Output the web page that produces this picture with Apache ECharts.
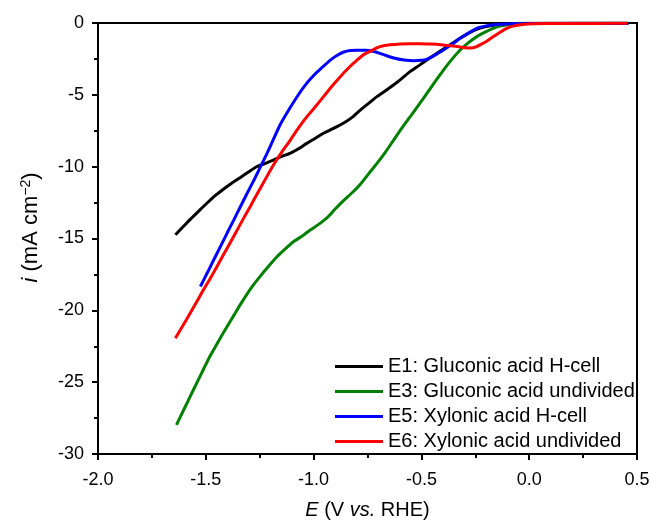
<!DOCTYPE html>
<html>
<head>
<meta charset="utf-8">
<script src="https://cdn.jsdelivr.net/npm/echarts@6/dist/echarts.min.js"></script>
<style>html,body{margin:0;padding:0;background:#fff}#c{width:651px;height:520px}</style>
</head>
<body>
<div id="c"></div>
<script>
// ---- data (E in V vs. RHE, i in mA cm^-2) ----
const seriesNames = ['E1: Gluconic acid H-cell','E3: Gluconic acid undivided','E5: Xylonic acid H-cell','E6: Xylonic acid undivided'];
const seriesColors = ['#000000','#008000','#0000ff','#ff0000'];

const e1X = [-1.641,-1.60,-1.571,-1.53,-1.494,-1.455,-1.417,-1.38,-1.339,-1.30,-1.262,-1.22,-1.185,-1.15,-1.107,-1.07,-1.030,-0.99,-0.953,-0.91,-0.860,-0.82,-0.782,-0.745,-0.705,-0.665,-0.628,-0.59,-0.551,-0.51,-0.473,-0.435,-0.396,-0.355,-0.319,-0.28,-0.241,-0.20,-0.164,-0.12,-0.08,0.0,0.46];
const e1Y = [-14.74,-14.1,-13.65,-13.05,-12.53,-12.0,-11.55,-11.15,-10.75,-10.35,-9.99,-9.75,-9.52,-9.3,-9.05,-8.75,-8.36,-8.0,-7.66,-7.35,-6.96,-6.55,-6.04,-5.6,-5.11,-4.7,-4.30,-3.85,-3.37,-2.95,-2.56,-2.17,-1.79,-1.4,-1.05,-0.7,-0.42,-0.25,-0.16,-0.08,-0.04,-0.02,-0.02];

const e3X = [-1.636,-1.60,-1.571,-1.54,-1.509,-1.486,-1.46,-1.432,-1.40,-1.370,-1.34,-1.308,-1.28,-1.246,-1.21,-1.169,-1.13,-1.092,-1.05,-1.014,-0.975,-0.937,-0.90,-0.860,-0.82,-0.782,-0.745,-0.705,-0.665,-0.628,-0.59,-0.551,-0.51,-0.473,-0.435,-0.396,-0.36,-0.319,-0.28,-0.241,-0.20,-0.164,-0.13,-0.102,-0.05,0.0,0.46];
const e3Y = [-27.97,-26.85,-25.95,-25.0,-24.05,-23.35,-22.65,-21.9,-21.1,-20.35,-19.6,-18.85,-18.25,-17.6,-16.95,-16.25,-15.7,-15.21,-14.8,-14.39,-14.0,-13.55,-12.95,-12.35,-11.8,-11.2,-10.5,-9.75,-8.95,-8.13,-7.3,-6.5,-5.65,-4.87,-4.05,-3.25,-2.55,-1.86,-1.35,-0.93,-0.6,-0.35,-0.2,-0.12,-0.05,-0.03,-0.02];

const e5X = [-1.525,-1.49,-1.463,-1.43,-1.401,-1.37,-1.339,-1.31,-1.277,-1.246,-1.22,-1.200,-1.154,-1.107,-1.075,-1.045,-1.015,-0.983,-0.95,-0.922,-0.89,-0.860,-0.83,-0.798,-0.76,-0.721,-0.675,-0.628,-0.58,-0.535,-0.50,-0.473,-0.435,-0.396,-0.355,-0.319,-0.28,-0.241,-0.20,-0.164,-0.087,0.0,0.46];
const e5Y = [-18.34,-17.3,-16.48,-15.5,-14.62,-13.7,-12.77,-11.9,-10.95,-10.0,-9.2,-8.55,-7.05,-5.85,-5.1,-4.45,-3.9,-3.4,-2.95,-2.58,-2.25,-2.02,-1.92,-1.9,-1.9,-1.98,-2.2,-2.44,-2.58,-2.63,-2.6,-2.51,-2.22,-1.86,-1.45,-1.05,-0.68,-0.35,-0.2,-0.12,-0.05,-0.03,-0.02];

const e6X = [-1.641,-1.59,-1.540,-1.51,-1.478,-1.45,-1.417,-1.385,-1.354,-1.325,-1.293,-1.262,-1.223,-1.185,-1.146,-1.107,-1.07,-1.030,-0.99,-0.953,-0.915,-0.875,-0.836,-0.80,-0.77,-0.736,-0.71,-0.690,-0.645,-0.597,-0.55,-0.504,-0.455,-0.411,-0.365,-0.319,-0.272,-0.245,-0.226,-0.195,-0.164,-0.133,-0.102,-0.07,-0.040,0.021,0.1,0.2,0.3,0.455];
const e6Y = [-21.94,-20.65,-19.35,-18.55,-17.75,-17.0,-16.1,-15.25,-14.4,-13.6,-12.75,-11.9,-10.85,-9.85,-8.95,-8.13,-7.3,-6.5,-5.8,-5.11,-4.4,-3.72,-3.1,-2.6,-2.22,-1.96,-1.75,-1.63,-1.52,-1.46,-1.44,-1.44,-1.47,-1.51,-1.58,-1.67,-1.74,-1.65,-1.51,-1.25,-0.93,-0.62,-0.35,-0.2,-0.12,-0.05,-0.04,-0.03,-0.03,-0.02];

const xTicks = {min: -2.0, max: 0.5, interval: 0.5};
const yTicks = {min: -30, max: 0, interval: 5};

// ---- chart ----
const zip = (xs, ys) => xs.map((x, k) => [x, ys[k]]);
const allX = [e1X, e3X, e5X, e6X];
const allY = [e1Y, e3Y, e5Y, e6Y];
const FONT = 'Liberation Sans, Arial, sans-serif';

const chart = echarts.init(document.getElementById('c'), null, {renderer: 'canvas'});
chart.setOption({
  animation: false,
  backgroundColor: '#fff',
  grid: {left: 98, right: 14, top: 23, bottom: 66, containLabel: false, outerBoundsMode: 'none',
         show: true, borderColor: '#000', borderWidth: 2, backgroundColor: 'transparent'},
  legend: {
    orient: 'vertical', left: 330, top: 349, itemWidth: 48, itemHeight: 3, itemGap: 0,
    icon: 'rect',
    data: seriesNames,
    textStyle: {fontFamily: FONT, fontSize: 20, color: '#000', lineHeight: 25}
  },
  xAxis: {
    type: 'value', min: xTicks.min, max: xTicks.max, interval: xTicks.interval,
    name: '{i|E} (V {i|vs.} RHE)', nameLocation: 'middle', nameGap: 46,
    nameTextStyle: {fontFamily: FONT, fontSize: 20, color: '#000', rich: {i: {fontFamily: FONT, fontSize: 20, fontStyle: 'italic', color: '#000'}}},
    axisLine: {show: true, onZero: false, lineStyle: {color: '#000', width: 2}},
    axisTick: {show: true, inside: false, length: 6, lineStyle: {color: '#000', width: 2}},
    minorTick: {show: true, splitNumber: 2, length: 4, lineStyle: {color: '#000', width: 2}},
    splitLine: {show: false},
    axisLabel: {fontFamily: FONT, fontSize: 18, color: '#000', margin: 17, formatter: v => v.toFixed(1)}
  },
  yAxis: {
    type: 'value', min: yTicks.min, max: yTicks.max, interval: yTicks.interval,
    name: '{i|i} (mA cm{sup|\u22122})', nameLocation: 'middle', nameGap: 56, nameRotate: 90,
    nameTextStyle: {fontFamily: FONT, fontSize: 22, color: '#000', padding: [0, 0, 0, 22], rich: {
      i: {fontFamily: FONT, fontSize: 22, fontStyle: 'italic', color: '#000'},
      sup: {fontFamily: FONT, fontSize: 14, color: '#000', verticalAlign: 'top', padding: [0, 0, 9, 0]}
    }},
    axisLine: {show: true, onZero: false, lineStyle: {color: '#000', width: 2}},
    axisTick: {show: true, inside: false, length: 6, lineStyle: {color: '#000', width: 2}},
    minorTick: {show: true, splitNumber: 2, length: 4, lineStyle: {color: '#000', width: 2}},
    splitLine: {show: false},
    axisLabel: {fontFamily: FONT, fontSize: 18, color: '#000', margin: 14}
  },
  series: seriesNames.map((name, k) => ({
    name: name, type: 'line', data: zip(allX[k], allY[k]),
    showSymbol: false, symbol: 'none', smooth: 0.2,
    lineStyle: {color: seriesColors[k], width: 3},
    itemStyle: {color: seriesColors[k]},
    z: 2 + k
  }))
});
</script>
</body>
</html>
